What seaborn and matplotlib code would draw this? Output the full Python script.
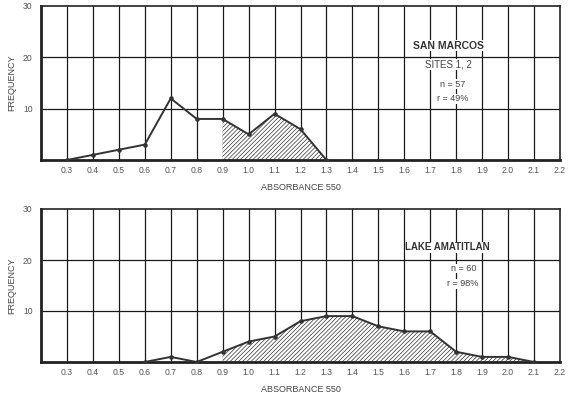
import numpy as np
import pandas as pd
import matplotlib
matplotlib.use("Agg")
import matplotlib.pyplot as plt
import seaborn as sns

# ---- data ----
sm_x = [0.3, 0.4, 0.5, 0.6, 0.7, 0.8, 0.9, 1.0, 1.1, 1.2, 1.3]
sm_y = [0, 1, 2, 3, 12, 8, 8, 5, 9, 6, 0]
la_x = [0.6, 0.7, 0.8, 0.9, 1.0, 1.1, 1.2, 1.3, 1.4, 1.5, 1.6, 1.7, 1.8, 1.9, 2.0, 2.1]
la_y = [0, 1, 0, 2, 4, 5, 8, 9, 9, 7, 6, 6, 2, 1, 1, 0]
xticks = [0.3, 0.4, 0.5, 0.6, 0.7, 0.8, 0.9, 1.0, 1.1, 1.2, 1.3, 1.4, 1.5,
          1.6, 1.7, 1.8, 1.9, 2.0, 2.1, 2.2]
xticklabels = ["0.3", "0.4", "0.5", "0.6", "0.7", "0.8", "0.9", "1.0", "1.1", "1.2",
               "1.3", "1.4", "1.5", "1.6", "1.7", "1.8", "1.9", "2.0", "2.1", "2.2"]
yticks = [10, 20, 30]
yticklabels = ["10", "20", "30"]
sm_hatch_start = 0.9
la_hatch_start = 0.9
sm_texts = ["SAN MARCOS", "SITES 1, 2", "n = 57", "r = 49%"]
la_texts = ["LAKE AMATITLAN", "n = 60", "r = 98%"]

sns.set_style("white")
plt.rcParams['font.family'] = ['Liberation Sans', 'DejaVu Sans']
plt.rcParams['hatch.linewidth'] = 0.5
plt.rcParams['hatch.color'] = '#333333'

fig = plt.figure(figsize=(5.76, 3.95), dpi=100)
ax1 = fig.add_axes([41/576, 1-160/395, (560-41)/576, (160-6)/395])
ax2 = fig.add_axes([41/576, 1-362/395, (560-41)/576, (362-209)/395])

def style(ax):
    ax.set_xlim(0.2, 2.2)
    ax.set_ylim(0, 30)
    for xv in xticks[:-1]:
        ax.axvline(xv, color='#1a1a1a', lw=0.9, zorder=1)
    for yv in [10, 20]:
        ax.axhline(yv, color='#1a1a1a', lw=0.9, zorder=1)
    ax.set_xticks(xticks)
    ax.set_xticklabels(xticklabels)
    ax.set_yticks(yticks)
    ax.set_yticklabels(yticklabels)
    ax.tick_params(axis='x', length=0, labelsize=6.2, colors='#555555', pad=4)
    ax.tick_params(axis='y', length=0, labelsize=6.2, colors='#555555', pad=6)
    for s in ['left', 'bottom']:
        ax.spines[s].set_linewidth(2.0)
        ax.spines[s].set_color('#222222')
    for s in ['top', 'right']:
        ax.spines[s].set_linewidth(1.2)
        ax.spines[s].set_color('#222222')
        ax.spines[s].set_visible(True)

def draw(ax, xs, ys, hstart):
    df = pd.DataFrame({"x": xs, "y": ys})
    sub = df[df.x >= hstart - 1e-9]
    ax.fill_between(sub.x, 0, sub.y, facecolor='white', hatch='////////',
                    edgecolor='#333333', linewidth=0, zorder=2)
    sns.lineplot(data=df, x="x", y="y", ax=ax, color='#333333', lw=1.4,
                 marker='o', markersize=3.3, markeredgewidth=0, zorder=3)

style(ax1)
style(ax2)
draw(ax1, sm_x, sm_y, sm_hatch_start)
draw(ax2, la_x, la_y, la_hatch_start)
for ax in (ax1, ax2):
    ax.set_xlabel("ABSORBANCE 550", fontsize=6.5, color='#444444', labelpad=6)
    ax.set_ylabel("FREQUENCY", fontsize=6.5, color='#444444', labelpad=5)

bb = dict(facecolor='white', edgecolor='none', pad=0.2)
ax1.text(1.77, 22.3, sm_texts[0], ha='center', va='center', fontsize=7.5,
         fontweight='bold', color='#333333', bbox=bb, zorder=5)
ax1.text(1.77, 18.6, sm_texts[1], ha='center', va='center', fontsize=7,
         color='#444444', bbox=bb, zorder=5)
ax1.text(1.785, 14.8, sm_texts[2], ha='center', va='center', fontsize=6.5,
         color='#444444', bbox=bb, zorder=5)
ax1.text(1.785, 11.9, sm_texts[3], ha='center', va='center', fontsize=6.5,
         color='#444444', bbox=bb, zorder=5)

ax2.text(1.765, 22.5, la_texts[0], ha='center', va='center', fontsize=7,
         fontweight='bold', color='#333333', bbox=bb, zorder=5)
ax2.text(1.83, 18.3, la_texts[1], ha='center', va='center', fontsize=6.5,
         color='#444444', bbox=bb, zorder=5)
ax2.text(1.825, 15.3, la_texts[2], ha='center', va='center', fontsize=6.5,
         color='#444444', bbox=bb, zorder=5)

fig.savefig("out.png", dpi=100)
